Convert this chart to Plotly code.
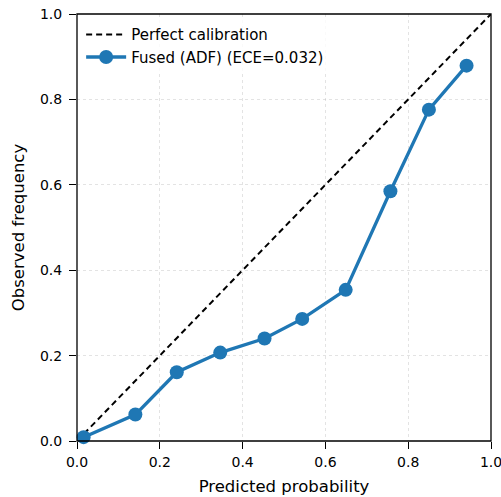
import plotly.graph_objects as go

pred = [0.016, 0.141, 0.241, 0.346, 0.453, 0.544, 0.649, 0.757, 0.850, 0.941]
obs = [0.009, 0.062, 0.161, 0.207, 0.240, 0.286, 0.354, 0.585, 0.776, 0.879]
perfect = [0.0, 1.0]
ticks = [0.0, 0.2, 0.4, 0.6, 0.8, 1.0]
tick_text = ["0.0", "0.2", "0.4", "0.6", "0.8", "1.0"]

FONT = "DejaVu Sans"

fig = go.Figure()
fig.add_trace(go.Scatter(
    x=perfect, y=perfect, mode="lines", name="Perfect calibration",
    line=dict(color="black", width=2, dash="6px,4px"),
    cliponaxis=False,
))
fig.add_trace(go.Scatter(
    x=pred, y=obs, mode="lines+markers", name="Fused (ADF) (ECE=0.032)",
    line=dict(color="#1f77b4", width=3.3),
    marker=dict(color="#1f77b4", size=14),
    cliponaxis=False,
))

axis_common = dict(
    range=[0, 1], tickvals=ticks, ticktext=tick_text,
    showline=False,
    ticks="outside", ticklen=7, tickwidth=1.2, tickcolor="black",
    showgrid=True, gridcolor="rgba(176,176,176,0.35)", gridwidth=1, griddash="dot",
    zeroline=False, automargin=False, ticklabeloverflow="allow",
    tickfont=dict(family=FONT, size=14, color="black"),
    title_font=dict(family=FONT, size=16.5, color="black"),
)

fig.update_layout(
    width=501, height=497,
    margin=dict(l=77, r=10, t=14, b=56),
    paper_bgcolor="white", plot_bgcolor="white",
    showlegend=True,
    legend=dict(
        x=0.01, y=0.99, xanchor="left", yanchor="top",
        bgcolor="rgba(255,255,255,0.8)",
        font=dict(family=FONT, size=15, color="black"),
        itemwidth=40, tracegroupgap=2,
    ),
    xaxis=dict(axis_common, ticklabelstandoff=1,
               title=dict(text="Predicted probability", standoff=11)),
    yaxis=dict(axis_common, ticklabelstandoff=4,
               title=dict(text="Observed frequency", standoff=11)),
    shapes=[dict(type="rect", xref="paper", yref="paper", x0=0, y0=0, x1=1, y1=1,
                 line=dict(color="black", width=1.3), layer="above")],
)

fig.write_html(
    "out.html",
    config={"displayModeBar": False},
    post_script="document.body.style.margin='0';document.body.style.overflow='hidden';",
)
